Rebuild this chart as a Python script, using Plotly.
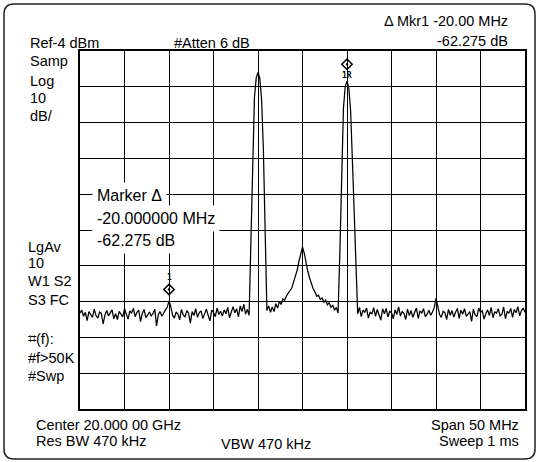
import numpy as np
import plotly.graph_objects as go

center_ghz = 20.0
span_mhz = 50.0
ref_level_dbm = -4.0
db_per_div = 10.0

trace_dbm = [
    -77.2, -76.4, -78.1, -77.0, -79.3, -76.8, -77.6, -78.4, -76.1, -77.9,
    -78.6, -76.9, -77.3, -80.2, -77.8, -76.5, -78.0, -77.1, -76.3, -78.8,
    -77.4, -79.0, -76.7, -77.5, -78.3, -76.0, -77.7, -78.9, -76.6, -77.2,
    -75.9, -78.2, -77.0, -76.4, -79.6, -77.3, -76.2, -78.5, -77.8, -76.9,
    -78.0, -77.4, -76.1, -80.8, -77.6, -76.8, -78.1, -77.0, -76.3, -75.6,
    -73.8,
    -75.4, -77.8, -78.6, -76.9, -77.5, -79.1, -76.2, -77.7, -78.3, -76.5,
    -77.2, -80.0, -76.8, -77.9, -76.0, -78.4, -77.1, -76.6, -78.7, -77.3,
    -76.1, -77.8, -79.4, -76.4, -77.0, -78.2, -75.8, -77.6, -76.7, -78.0,
    -76.3, -77.4, -75.6, -78.5, -76.9, -75.4, -77.1, -76.0, -78.3, -75.2,
    -76.8, -74.8, -77.5, -76.2,
    -77.8, -55.0, -33.0, -17.0, -11.5, -10.0, -11.6, -17.5, -31.0, -52.0, -76.5,
    -75.2, -77.0, -75.5, -76.8, -74.6, -75.8, -74.0, -74.8, -73.2, -73.6,
    -72.4, -71.8, -70.9, -70.2, -68.6, -67.0, -65.2, -62.8, -60.2, -58.7,
    -60.5, -63.5, -65.6, -67.4, -69.3, -70.4, -71.3, -72.5, -72.2, -73.4,
    -73.0, -74.2, -73.6, -74.9, -74.3, -75.6, -75.0, -76.4, -75.6,
    -77.2, -60.0, -38.0, -20.0, -14.0, -12.4, -14.2, -20.5, -34.0, -50.0, -68.0, -77.4,
    -75.6, -78.2, -76.4, -77.0, -75.8, -78.6, -76.9, -77.5, -75.7, -78.1,
    -76.2, -77.7, -79.2, -76.0, -77.4, -75.9, -78.3, -76.7, -77.1, -78.8,
    -76.3, -77.6, -75.5, -78.0, -76.8, -77.3, -79.0, -76.1, -77.9, -76.5,
    -78.4, -77.0, -75.8, -78.7, -76.6, -77.2, -76.0, -78.2, -77.5, -76.4,
    -77.8, -76.9, -75.7,
    -73.0,
    -75.3, -77.6, -78.4, -76.7, -77.1, -79.0, -76.2, -77.8, -76.5, -78.3,
    -77.0, -75.9, -78.7, -76.4, -77.5, -76.0, -78.1, -77.3, -76.8, -79.5,
    -76.1, -77.7, -78.2, -75.8, -77.0, -76.6, -78.9, -77.4, -76.3, -77.9,
    -75.6, -78.5, -76.9, -77.2, -76.0, -78.0, -77.6, -75.5, -78.8, -76.7,
    -77.3, -75.9, -78.4, -76.2, -77.1, -75.4, -78.0, -76.5, -75.8, -77.0,
]

marker_freq_ghz = [19.985, 20.005]
marker_names = ["1", "1R"]

top_left_text = ["Ref-4 dBm", "Samp", "Log", "10", "dB/"]
mid_left_text = ["LgAv", "10", "W1 S2", "S3 FC"]
low_left_text = ["\u2317(f):", "#f>50K", "#Swp"]
marker_box_text = ["Marker \u0394", "-20.000000 MHz", "-62.275 dB"]
mkr_readout = ["\u0394 Mkr1 -20.00 MHz", "-62.275 dB"]
atten_text = "#Atten 6 dB"
bottom_left_text = ["Center 20.000 00 GHz", "Res BW 470 kHz"]
bottom_mid_text = "VBW 470 kHz"
bottom_right_text = ["Span 50 MHz", "Sweep 1 ms"]

# ---- figure ----
n = len(trace_dbm)
start = center_ghz - span_mhz / 2000.0
stop = center_ghz + span_mhz / 2000.0
freq_ghz = np.linspace(start, stop, n)

FONT = "Liberation Sans, Arial, sans-serif"
FS = 14.5
W, H = 538, 462
PL, PR, PT, PB = 80, 525, 51, 409


def px(x):
    return (x - PL) / (PR - PL)


def py(y):
    return (PB - y) / (PB - PT)


fig = go.Figure()
fig.add_trace(go.Scatter(x=freq_ghz, y=trace_dbm, mode="lines",
                         line=dict(color="black", width=1.25),
                         hoverinfo="skip", showlegend=False))

# marker symbols
levels = [trace_dbm[int(np.argmin(np.abs(freq_ghz - f)))] for f in marker_freq_ghz]
diamond_offset = [3.2, 4.7]
fig.add_trace(go.Scatter(
    x=marker_freq_ghz, y=[l + o for l, o in zip(levels, diamond_offset)],
    mode="markers", marker=dict(symbol="diamond-open-dot", size=8, color="black",
                                line=dict(color="black", width=1.5)),
    hoverinfo="skip", showlegend=False))

annotations = []
label_offset = [6.6, 1.5]
for f, l, name, o in zip(marker_freq_ghz, levels, marker_names, label_offset):
    annotations.append(dict(x=f, y=l + o, xref="x", yref="y", text="<b>%s</b>" % name,
                            showarrow=False, font=dict(family="DejaVu Sans Mono", size=8, color="black"),
                            xanchor="center", yanchor="middle", borderpad=0))


def txt(s, x, y, anchor="left", size=FS, bg=None, pad=0):
    d = dict(x=px(x), y=py(y), xref="paper", yref="paper", text=s, showarrow=False,
             xanchor=anchor, yanchor="middle", font=dict(family=FONT, size=size, color="black"),
             borderpad=pad)
    if bg:
        d["bgcolor"] = bg
    annotations.append(d)


for s, y in zip(top_left_text, [42.5, 60.7, 81.3, 98.3, 115.5]):
    txt(s, 29, y)
txt(atten_text, 173, 42.5)
for s, y in zip(mkr_readout, [21.5, 41]):
    txt(s, 509, y, anchor="right")
for s, y in zip(mid_left_text, [246.5, 263, 281, 299.5]):
    txt(s, 27, y)
for s, y in zip(low_left_text, [339, 357.5, 376]):
    txt(s, 27, y)
for s, y in zip(marker_box_text, [195, 218.5, 240]):
    txt(s, 92, y, size=16, bg="white", pad=4)
for s, y in zip(bottom_left_text, [425, 441.5]):
    txt(s, 35, y)
txt(bottom_mid_text, 220, 443.5)
for s, y in zip(bottom_right_text, [425, 441.5]):
    txt(s, 520, y, anchor="right")

# outer rounded frame
Lx, Rx, Ty, By = px(4), px(535), py(4), py(459)
rx, ry = 10 / (PR - PL), 10 / (PB - PT)
path = (f"M {Lx+rx},{Ty} L {Rx-rx},{Ty} Q {Rx},{Ty} {Rx},{Ty-ry} L {Rx},{By+ry} "
        f"Q {Rx},{By} {Rx-rx},{By} L {Lx+rx},{By} Q {Lx},{By} {Lx},{By+ry} "
        f"L {Lx},{Ty-ry} Q {Lx},{Ty} {Lx+rx},{Ty} Z")

fig.update_layout(
    width=W, height=H, autosize=False,
    margin=dict(l=PL, r=W - PR, t=PT, b=H - PB),
    paper_bgcolor="white", plot_bgcolor="white",
    annotations=annotations,
    shapes=[dict(type="path", path=path, xref="paper", yref="paper",
                 line=dict(color="#222222", width=1.5), layer="below")],
    xaxis=dict(range=[start, stop], tick0=start, dtick=span_mhz / 10000.0,
               showticklabels=False, ticks="", showgrid=True, gridcolor="black",
               gridwidth=1, zeroline=False, showline=True, linecolor="black",
               linewidth=2, mirror=True, fixedrange=True),
    yaxis=dict(range=[ref_level_dbm - 10 * db_per_div, ref_level_dbm], tick0=ref_level_dbm,
               dtick=db_per_div, showticklabels=False, ticks="", showgrid=True,
               gridcolor="black", gridwidth=1, zeroline=False, showline=True,
               linecolor="black", linewidth=2, mirror=True, fixedrange=True),
)

fig.write_html("out.html", config={"displayModeBar": False},
               post_script="document.body.style.margin='0';document.body.style.padding='0';")
